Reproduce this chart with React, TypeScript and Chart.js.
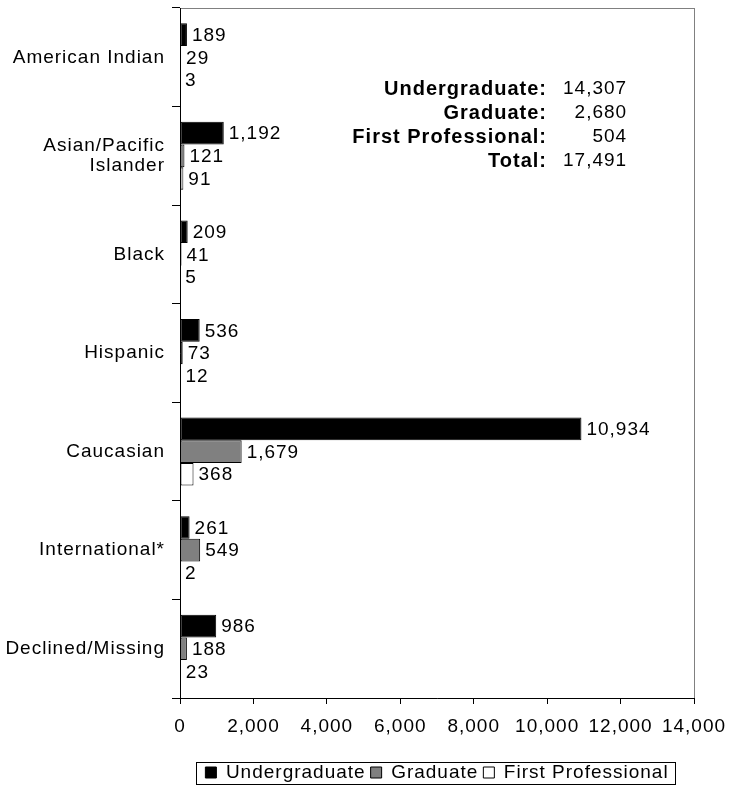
import React, { useEffect, useRef } from 'react';
import { Chart, registerables } from 'chart.js';

Chart.register(...registerables);

const categories: (string | string[])[] = [
  'American Indian',
  ['Asian/Pacific', 'Islander'],
  'Black',
  'Hispanic',
  'Caucasian',
  'International*',
  'Declined/Missing',
];
const seriesNames = ['Undergraduate', 'Graduate', 'First Professional'];
const undergraduate = [189, 1192, 209, 536, 10934, 261, 986];
const graduate = [29, 121, 41, 73, 1679, 549, 188];
const firstProfessional = [3, 91, 5, 12, 368, 2, 23];
const seriesColors = ['#000000', '#808080', '#ffffff'];
const xMax = 14000;
const xStep = 2000;
const summaryLabels = ['Undergraduate:', 'Graduate:', 'First Professional:', 'Total:'];
const summaryValues = ['14,307', '2,680', '504', '17,491'];

const FONT = "'Liberation Sans', Arial, sans-serif";
const SIZE = 19;
const fmt = (v: number) => v.toLocaleString('en-US');

const spacingPlugin = {
  id: 'spacing',
  afterInit(chart: any) { (chart.ctx as any).letterSpacing = '1px'; },
  beforeUpdate(chart: any) { (chart.ctx as any).letterSpacing = '1px'; },
  beforeLayout(chart: any) { (chart.ctx as any).letterSpacing = '1px'; },
  beforeDraw(chart: any) { (chart.ctx as any).letterSpacing = '1px'; },
};

const framePlugin = {
  id: 'frame',
  beforeDraw(chart: any) {
    const { ctx, chartArea: a } = chart;
    ctx.save();
    ctx.strokeStyle = '#808080';
    ctx.lineWidth = 1;
    ctx.strokeRect(a.left + 0.5, a.top + 0.5, a.right - a.left, a.bottom - a.top);
    ctx.restore();
  },
};

const valueLabelPlugin = {
  id: 'valueLabels',
  afterDatasetsDraw(chart: any) {
    const { ctx } = chart;
    ctx.save();
    (ctx as any).letterSpacing = '1px';
    ctx.font = `${SIZE}px ${FONT}`;
    ctx.fillStyle = '#000';
    ctx.textAlign = 'left';
    ctx.textBaseline = 'middle';
    chart.data.datasets.forEach((ds: any, i: number) => {
      const meta = chart.getDatasetMeta(i);
      meta.data.forEach((bar: any, j: number) => {
        ctx.fillText(fmt(ds.data[j]), bar.x + 5, bar.y + 1);
      });
    });
    ctx.restore();
  },
};

const summaryPlugin = {
  id: 'summary',
  afterDraw(chart: any) {
    const { ctx, chartArea: a } = chart;
    const w = a.right - a.left;
    const labelRight = a.left + w * 0.712;
    const valueRight = a.left + w * 0.868;
    ctx.save();
    ctx.fillStyle = '#000';
    ctx.textBaseline = 'middle';
    summaryLabels.forEach((lab, i) => {
      const y = a.top + 81 + i * 24;
      ctx.font = `bold 20px ${FONT}`;
      ctx.textAlign = 'right';
      (ctx as any).letterSpacing = '1px';
      ctx.fillText(lab, labelRight + 1, y);
      ctx.font = `${SIZE}px ${FONT}`;
      ctx.fillText(summaryValues[i], valueRight + 1, y);
    });
    ctx.restore();
  },
};

const legendFramePlugin = {
  id: 'legendFrame',
  afterDraw(chart: any) {
    const lg = chart.legend;
    if (!lg || !lg.legendHitBoxes || !lg.legendHitBoxes.length) return;
    const boxes = lg.legendHitBoxes;
    let l = Infinity, r = -Infinity, t = Infinity, b = -Infinity;
    boxes.forEach((h: any) => {
      l = Math.min(l, h.left);
      r = Math.max(r, h.left + h.width);
      t = Math.min(t, h.top);
      b = Math.max(b, h.top + h.height);
    });
    const cy = (t + b) / 2;
    const { ctx } = chart;
    ctx.save();
    ctx.strokeStyle = '#000';
    ctx.lineWidth = 1;
    ctx.strokeRect(Math.round(l - 9) + 0.5, Math.round(cy - 11) + 0.5, Math.round(r - l + 16), 22);
    ctx.restore();
  },
};

export default function App() {
  const ref = useRef<HTMLCanvasElement | null>(null);
  useEffect(() => {
    if (!ref.current) return;
    const chart = new Chart(ref.current, {
      type: 'bar',
      data: {
        labels: categories,
        datasets: [undergraduate, graduate, firstProfessional].map((d, i) => ({
          label: seriesNames[i],
          data: d,
          backgroundColor: seriesColors[i],
          borderColor: '#000000',
          borderWidth: 1,
          borderSkipped: false,
          categoryPercentage: 0.69,
          barPercentage: 1.0,
        })),
      },
      options: {
        indexAxis: 'y',
        animation: false,
        responsive: false,
        devicePixelRatio: 1,
        layout: { padding: { top: 8, right: 35, left: 0, bottom: 0 } },
        scales: {
          x: {
            min: 0,
            max: xMax,
            ticks: {
              stepSize: xStep,
              color: '#000',
              font: { family: FONT, size: SIZE },
              padding: 11,
              maxRotation: 0,
              autoSkip: false,
              callback: (v: any) => fmt(Number(v)),
            },
            grid: { drawOnChartArea: false, drawTicks: true, tickLength: 6, color: '#000' },
            border: { display: true, color: '#000' },
            afterFit: (s: any) => { s.height = 60; s.paddingLeft = 0; s.paddingRight = 0; },
          },
          y: {
            ticks: {
              color: '#000',
              font: { family: FONT, size: SIZE, lineHeight: 1.05 },
              padding: 7,
            },
            grid: { drawOnChartArea: false, drawTicks: true, tickLength: 8, color: '#000', offset: true },
            border: { display: true, color: '#000' },
            afterFit: (s: any) => { s.width = 180; s.paddingTop = 0; s.paddingBottom = 0; },
          },
        },
        plugins: {
          legend: {
            position: 'bottom',
            fullSize: false,
            maxHeight: 28,
            labels: {
              boxWidth: 11,
              boxHeight: 11,
              padding: 5,
              color: '#000',
              font: { family: FONT, size: SIZE },
            },
          },
          tooltip: { enabled: false },
        },
      },
      plugins: [spacingPlugin, framePlugin, valueLabelPlugin, summaryPlugin, legendFramePlugin],
    } as any);
    return () => chart.destroy();
  }, []);
  return (
    <div style={{ position: 'absolute', left: 0, top: 0, width: 729, height: 786, overflow: 'hidden', background: '#fff' }}>
      <canvas ref={ref} width={729} height={786} style={{ display: 'block', width: 729, height: 786 }} />
    </div>
  );
}
